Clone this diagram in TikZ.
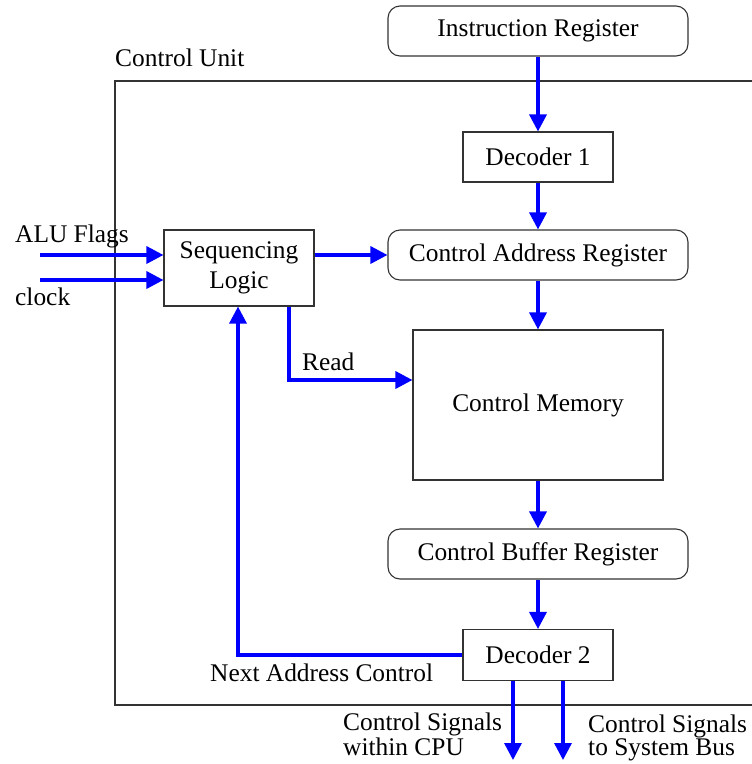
\documentclass[tikz,border=0pt]{standalone}
\usepackage{fontspec}
\setmainfont{Liberation Serif}
\usetikzlibrary{arrows.meta}
\begin{document}
\begin{tikzpicture}[x=1pt,y=-1pt,
  font=\fontsize{25.4}{23}\selectfont,
  unit/.style={draw=black!80,line width=1.1pt,inner sep=0pt,align=center},
  regbox/.style={unit,rounded corners=12pt,minimum width=300pt,minimum height=50pt},
  decbox/.style={unit,minimum width=150pt,minimum height=50pt},
  flow/.style={draw=blue,line width=3.4pt,-{Triangle[length=17pt,width=17pt]}},
  lbl/.style={inner sep=0pt,anchor=base west,align=left}]
\useasboundingbox (0,0) rectangle (752,764);

% control unit frame (open to the right)
\draw[black!80,line width=1.1pt] (760,81) -- (115,81) -- (115,705) -- (760,705);
\node[lbl] (cu) at (115,66) {Control Unit};

% blocks
\node[regbox] (ir)  at (538,31)  {Instruction Register};
\node[decbox] (d1)  at (538,157) {Decoder 1};
\node[regbox] (car) at (538,255) {Control Address Register};
\node[unit,minimum width=150pt,minimum height=76pt] (seq) at (239,268) {Sequencing\\[7pt]Logic};
\node[unit,minimum width=250pt,minimum height=150pt] (cm) at (538,405) {Control Memory};
\node[regbox] (cbr) at (538,554) {Control Buffer Register};
\node[decbox,minimum height=51pt] (d2) at (538,655) {Decoder 2};

% inputs
\coordinate (alu) at (40,255);
\coordinate (clk) at (40,280);
\node[lbl] (alul) at (15,242) {ALU Flags};
\node[lbl] (clkl) at (15,305) {clock};
\draw[flow] (alu) -- (alu -| seq.west);
\draw[flow] (clk) -- (clk -| seq.west);

% main path
\draw[flow] (ir) -- (d1);
\draw[flow] (d1) -- (car);
\draw[flow] (seq.east |- car) -- (car.west);
\draw[flow] (car) -- (cm);
\draw[flow] (cm) -- (cbr);
\draw[flow] (cbr) -- (d2);

% read line
\coordinate (rd) at (289,380);
\draw[flow] (rd |- seq.south) -- (rd) -- (rd -| cm.west);
\node[lbl] (readl) at (302,370) {Read};

% next address feedback
\coordinate (na) at (238,655);
\draw[flow] (d2.west) -- (na) -- (na |- seq.south);
\node[lbl] (nal) at (210,681) {Next Address Control};

% outputs
\coordinate (o1) at (513,760);
\coordinate (o2) at (563,760);
\draw[flow] (o1 |- d2.south) -- (o1);
\draw[flow] (o2 |- d2.south) -- (o2);
\node[lbl] (o1l) at (343,755) {Control Signals\\within CPU};
\node[lbl] (o2l) at (588,755) {Control Signals\\to System Bus};
\end{tikzpicture}
\end{document}
